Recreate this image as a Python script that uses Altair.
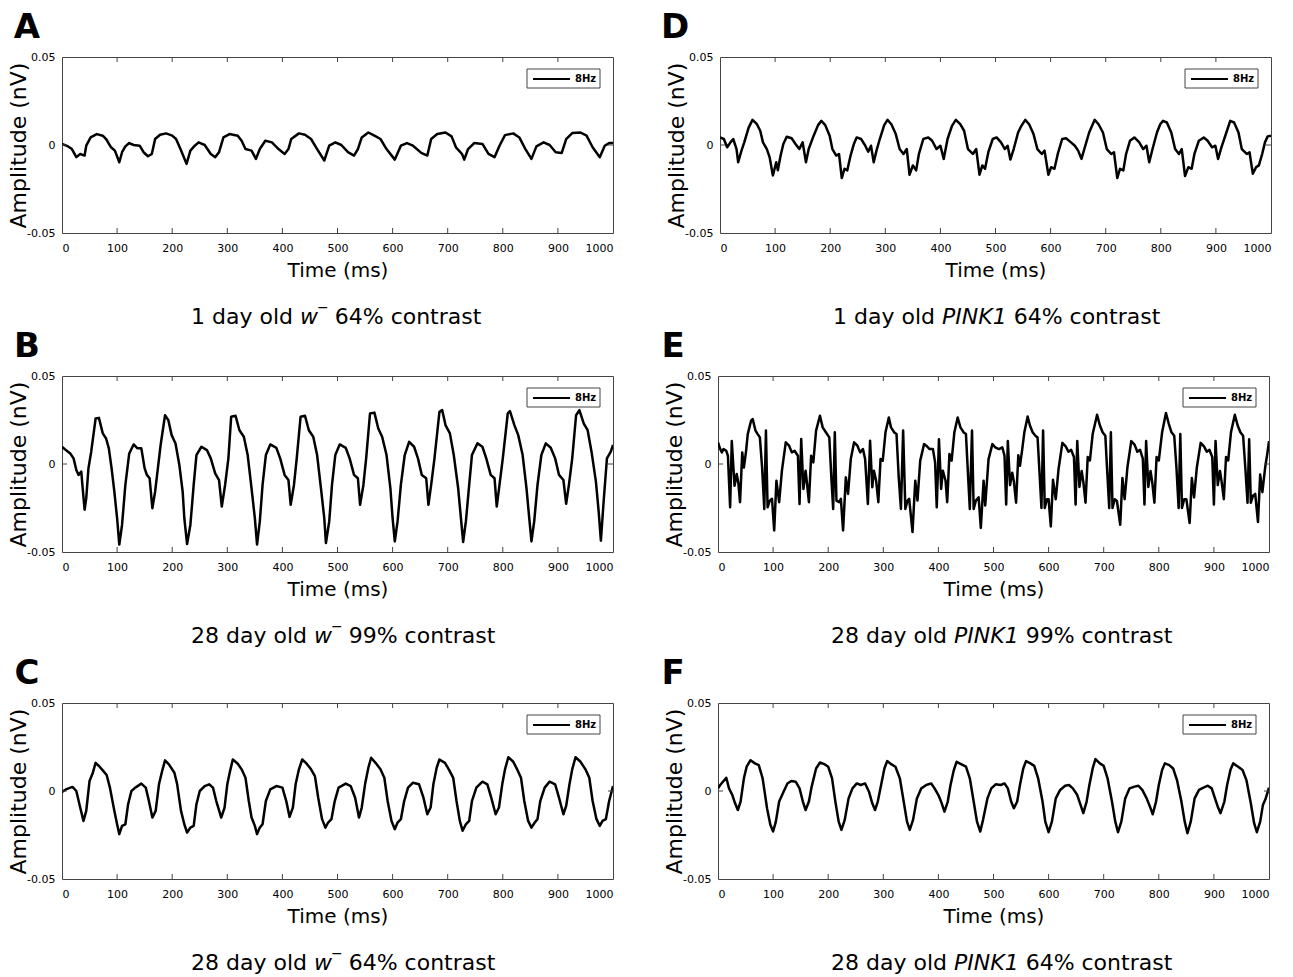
import altair as alt
import pandas as pd

W, H = 551, 176
FONT = "DejaVu Sans"

x_ticks = [0, 100, 200, 300, 400, 500, 600, 700, 800, 900, 1000]
inner_ticks = [100, 200, 300, 400, 500, 600, 700, 800, 900]
y_ticks = [-0.05, 0, 0.05]

# ---------------- Panel A : 1 day old w- 64% ----------------
time_a = [0, 11, 18, 26, 33, 41, 44, 52, 63, 74, 80, 89, 96, 104, 109, 115, 122, 130, 141, 148,
          156, 163, 169, 178, 189, 200, 207, 215, 226, 233, 241, 248, 259, 270, 278, 285, 293, 304,
          319, 326, 333, 344, 352, 359, 369, 381, 393, 404, 411, 416, 430, 441, 452, 463, 476, 485,
          496, 507, 519, 530, 537, 544, 556, 567, 578, 589, 604, 615, 626, 637, 652, 663, 670, 681,
          696, 707, 715, 726, 730, 737, 748, 763, 774, 785, 794, 804, 819, 830, 841, 852, 861, 874,
          885, 896, 907, 915, 926, 941, 952, 963, 976, 985, 993, 1000]
amp_a = [0.0006, -0.0008, -0.0023, -0.0069, -0.0051, -0.006, -0.0004, 0.0043, 0.0062, 0.0053,
         0.0034, -0.0013, -0.0032, -0.0098, -0.0041, -0.0008, 0.0011, 0.0, -0.0004, -0.0041,
         -0.0064, -0.0051, 0.0034, 0.0058, 0.0066, 0.0053, 0.0034, -0.0023, -0.0107, -0.0032,
         -0.0004, 0.0015, 0.0, -0.0051, -0.0069, -0.0041, 0.0043, 0.0062, 0.0053, 0.0024,
         -0.0023, -0.0032, -0.0079, -0.0023, 0.0024, 0.0015, -0.0023, -0.0051, -0.0023, 0.0034,
         0.0066, 0.0058, 0.0034, -0.0023, -0.0088, -0.0004, 0.0015, 0.0, -0.0041, -0.006,
         -0.0023, 0.0043, 0.0071, 0.0053, 0.0034, -0.0023, -0.0083, -0.0004, 0.0011, -0.0004,
         -0.0045, -0.006, 0.0034, 0.0062, 0.0071, 0.0049, -0.0013, -0.0051, -0.0083, -0.0023,
         0.0011, 0.0006, -0.0051, -0.0069, -0.0004, 0.0056, 0.0066, 0.0043, -0.0023, -0.0079,
         -0.0008, 0.0015, 0.0, -0.0041, -0.0045, 0.0034, 0.0068, 0.0071, 0.0053, -0.0013,
         -0.0069, -0.0004, 0.0011, 0.0011]

# ---------------- Panel B : 28 day old w- 99% ----------------
time_b = [0, 7, 15, 21, 26, 30, 35, 37, 41, 44, 48, 53, 61, 67, 74, 80, 85, 90, 95, 100, 104, 109,
          115, 122, 130, 137, 144, 150, 154, 159, 164, 169, 174, 179, 187, 193, 199, 206, 213, 219,
          222, 227, 233, 239, 244, 253, 263, 270, 278, 285, 290, 296, 302, 307, 315, 322, 330, 337,
          344, 350, 354, 359, 364, 370, 378, 389, 396, 404, 411, 415, 421, 426, 433, 441, 448, 456,
          463, 470, 476, 479, 485, 490, 496, 504, 515, 522, 530, 537, 541, 547, 552, 559, 567, 574,
          581, 589, 596, 600, 604, 609, 615, 622, 630, 639, 646, 653, 661, 665, 670, 676, 685, 690,
          696, 704, 711, 719, 724, 728, 733, 739, 744, 754, 763, 770, 778, 785, 789, 794, 800, 809,
          813, 821, 828, 836, 843, 848, 852, 857, 863, 870, 878, 887, 895, 902, 910, 915, 920, 926,
          933, 939, 947, 954, 961, 969, 974, 978, 983, 989, 996, 1000]
amp_b = [0.0098, 0.0079, 0.006, 0.0032, -0.0034, -0.0062, -0.0043, -0.0119, -0.026, -0.0194,
         -0.0025, 0.007, 0.0258, 0.0262, 0.0174, 0.0145, 0.0089, -0.0025, -0.0157, -0.0308,
         -0.0458, -0.0345, -0.0119, 0.006, 0.0111, 0.0089, 0.0089, -0.0025, -0.0062, -0.0081,
         -0.0251, -0.0157, -0.0025, 0.0108, 0.0277, 0.0249, 0.0164, 0.0117, -0.0006, -0.0157,
         -0.0308, -0.0455, -0.0345, -0.0119, 0.0051, 0.0098, 0.0079, 0.0032, -0.0053, -0.0091,
         -0.0242, -0.0119, 0.0032, 0.0268, 0.0274, 0.0192, 0.0155, 0.0051, -0.0138, -0.0308,
         -0.0458, -0.0326, -0.0119, 0.0051, 0.0111, 0.0092, 0.0032, -0.0062, -0.0091, -0.0232,
         -0.0119, 0.0032, 0.0268, 0.0274, 0.0192, 0.0155, 0.0051, -0.0138, -0.0308, -0.0449,
         -0.0326, -0.0119, 0.0051, 0.0111, 0.0092, 0.0032, -0.0062, -0.0081, -0.0232, -0.0119,
         0.0032, 0.0287, 0.0292, 0.0202, 0.0155, 0.0051, -0.0138, -0.0308, -0.044, -0.0326,
         -0.0119, 0.0051, 0.0126, 0.0098, 0.0032, -0.0062, -0.0081, -0.0232, -0.0119, 0.0032,
         0.0296, 0.0306, 0.0221, 0.0174, 0.0051, -0.0138, -0.0308, -0.0443, -0.0326, -0.0119,
         0.0051, 0.0117, 0.0098, 0.0032, -0.0062, -0.0081, -0.0242, -0.0119, 0.0032, 0.0287,
         0.03, 0.0221, 0.0164, 0.0051, -0.0138, -0.0308, -0.044, -0.0326, -0.0119, 0.0051,
         0.0117, 0.0092, 0.0032, -0.0062, -0.0091, -0.0226, -0.0119, 0.0032, 0.0277, 0.0306,
         0.023, 0.0192, 0.007, -0.01, -0.027, -0.0436, -0.0213, 0.0032, 0.007, 0.0108]

# ---------------- Panel C : 28 day old w- 64% ----------------
time_c = [0, 7, 19, 26, 33, 39, 44, 50, 56, 61, 67, 74, 81, 87, 95, 100, 104, 109, 115, 120, 126,
          133, 144, 152, 157, 164, 170, 176, 181, 187, 194, 204, 209, 216, 222, 227, 233, 239, 244,
          250, 259, 267, 274, 280, 289, 295, 300, 305, 310, 319, 326, 333, 339, 344, 350, 354, 359,
          364, 370, 378, 389, 400, 407, 413, 419, 424, 430, 436, 444, 452, 459, 465, 472, 478, 483,
          489, 495, 502, 515, 524, 532, 539, 544, 550, 556, 561, 569, 578, 585, 591, 598, 604, 609,
          615, 621, 628, 637, 648, 656, 663, 669, 674, 680, 685, 695, 702, 710, 716, 722, 727, 733,
          739, 744, 752, 763, 772, 779, 787, 793, 799, 804, 810, 819, 826, 833, 839, 846, 852, 858,
          863, 868, 876, 885, 895, 902, 910, 915, 921, 926, 932, 941, 950, 957, 963, 970, 976, 981,
          987, 993, 1000]
amp_c = [-0.0006, 0.0009, 0.0023, 0.0, -0.0094, -0.017, -0.0113, 0.0057, 0.0104, 0.016, 0.0142,
         0.0117, 0.0091, 0.0019, -0.0113, -0.0189, -0.0245, -0.0198, -0.0189, -0.0075, 0.0,
         0.0019, 0.0042, 0.0019, -0.0047, -0.0151, -0.0113, 0.0038, 0.0104, 0.0174, 0.0151,
         0.0104, 0.0038, -0.0113, -0.0189, -0.0236, -0.0208, -0.0198, -0.0075, 0.0, 0.0028,
         0.0038, 0.0019, -0.0057, -0.0151, -0.0094, 0.0038, 0.0113, 0.0179, 0.0155, 0.0123,
         0.0075, -0.0057, -0.0151, -0.0198, -0.0245, -0.0208, -0.0189, -0.0057, 0.0009, 0.0028,
         0.0019, -0.0057, -0.0147, -0.0094, 0.0038, 0.0123, 0.0179, 0.0155, 0.0123, 0.0085,
         -0.0038, -0.016, -0.0208, -0.0179, -0.016, -0.0057, 0.0019, 0.0042, 0.0028, -0.0038,
         -0.0151, -0.0094, 0.0038, 0.0132, 0.0189, 0.016, 0.0123, 0.0075, -0.0057, -0.017,
         -0.0217, -0.0179, -0.016, -0.0057, 0.0019, 0.0047, 0.0038, -0.0038, -0.0132, -0.0094,
         0.0038, 0.0132, 0.0179, 0.016, 0.0123, 0.0075, -0.0057, -0.017, -0.0226, -0.0189,
         -0.017, -0.0057, 0.0019, 0.0053, 0.0038, -0.0038, -0.0132, -0.0094, 0.0038, 0.0123,
         0.0192, 0.0166, 0.0123, 0.0075, -0.0057, -0.017, -0.0208, -0.0179, -0.016, -0.0057,
         0.0019, 0.0053, 0.0038, -0.0038, -0.0132, -0.0085, 0.0038, 0.0123, 0.0192, 0.0166,
         0.0123, 0.0075, -0.0057, -0.016, -0.0198, -0.017, -0.016, -0.0057, 0.0028]

# ---------------- Panel D : 1 day old PINK1 64% ----------------
time_d = [0, 7, 13, 19, 24, 30, 33, 39, 44, 52, 59, 67, 73, 78, 85, 90, 96, 102, 105, 110, 115,
          121, 130, 137, 144, 150, 156, 161, 170, 178, 184, 191, 199, 204, 211, 216, 221, 226, 231,
          237, 243, 248, 256, 263, 269, 274, 279, 284, 290, 298, 304, 311, 319, 326, 333, 339, 344,
          350, 356, 361, 369, 378, 385, 393, 400, 406, 413, 421, 428, 436, 443, 450, 459, 465, 471,
          476, 481, 487, 495, 502, 510, 517, 522, 527, 533, 541, 547, 554, 561, 569, 576, 584, 589,
          596, 601, 607, 613, 621, 628, 637, 644, 650, 656, 663, 670, 680, 687, 695, 702, 710, 715,
          721, 726, 732, 737, 744, 752, 761, 768, 774, 779, 785, 793, 799, 804, 811, 819, 826, 833,
          838, 844, 850, 856, 861, 869, 878, 885, 893, 899, 904, 910, 919, 926, 933, 941, 947, 956,
          961, 967, 973, 978, 984, 989, 994, 1000]
amp_d = [0.0043, 0.0034, -0.0013, 0.0015, 0.0034, -0.0023, -0.0098, -0.0032, 0.0015, 0.0099,
         0.0143, 0.0118, 0.0081, 0.0015, -0.0023, -0.0069, -0.0173, -0.0098, -0.0144, -0.006,
         0.0006, 0.0047, 0.0038, 0.0006, -0.0023, 0.0015, -0.0098, -0.0023, 0.0053, 0.0113,
         0.0137, 0.0113, 0.0053, -0.0023, -0.006, -0.0051, -0.0188, -0.0135, -0.0144, -0.006,
         0.0006, 0.0043, 0.0034, 0.0, -0.0038, -0.0004, -0.0098, -0.0032, 0.0034, 0.0113,
         0.0143, 0.0118, 0.0062, -0.0023, -0.0051, -0.0023, -0.0169, -0.0116, -0.0144, -0.0051,
         0.0034, 0.0043, 0.0024, -0.0023, -0.0004, -0.0079, 0.0034, 0.0109, 0.0143, 0.0118,
         0.0081, -0.0023, -0.0051, -0.0023, -0.0169, -0.0116, -0.0135, -0.0041, 0.0034, 0.0043,
         0.0015, -0.0023, -0.0004, -0.0083, -0.0023, 0.0071, 0.0109, 0.0143, 0.0118, 0.0062,
         -0.0023, -0.0051, -0.0032, -0.0169, -0.0126, -0.0135, -0.0051, 0.0034, 0.0038, 0.0015,
         -0.0004, -0.0032, -0.0079, -0.0004, 0.0071, 0.0143, 0.0118, 0.0071, -0.0023, -0.0051,
         -0.0041, -0.0188, -0.0135, -0.0144, -0.0051, 0.0024, 0.0043, 0.0015, -0.0023, -0.0004,
         -0.0098, -0.0023, 0.0071, 0.0118, 0.0137, 0.0128, 0.0071, -0.0023, -0.0051, -0.0023,
         -0.0176, -0.0126, -0.0135, -0.0051, 0.0024, 0.0043, 0.0024, -0.0013, -0.0004, -0.0079,
         -0.0013, 0.0071, 0.0137, 0.0128, 0.0071, -0.0023, -0.0051, -0.0041, -0.0163, -0.0126,
         -0.0116, -0.0051, 0.0015, 0.0049, 0.0053]

# ---------------- Panel E : 28 day old PINK1 99% ----------------
time_e = [0, 4, 7, 10, 15, 18, 22, 25, 30, 34, 37, 40, 44, 47, 51, 54, 60, 63, 68, 72, 76, 80, 84,
          87, 90, 94, 98, 102, 106, 111, 116, 123, 129, 134, 139, 145, 148, 151, 155, 159, 161, 165,
          169, 173, 178, 185, 190, 196, 202, 206, 209, 212, 215, 220, 223, 227, 232, 236, 241, 247,
          253, 258, 263, 267, 272, 276, 280, 283, 287, 291, 295, 299, 304, 310, 314, 320, 324, 328,
          332, 336, 340, 344, 347, 353, 358, 362, 367, 374, 378, 384, 390, 394, 397, 401, 405, 408,
          413, 416, 420, 424, 429, 435, 440, 446, 450, 454, 457, 461, 464, 468, 473, 477, 482, 485,
          491, 498, 503, 510, 516, 520, 523, 526, 530, 534, 537, 541, 545, 548, 552, 556, 562, 566,
          571, 576, 580, 583, 587, 590, 593, 597, 600, 604, 608, 613, 618, 625, 631, 636, 641, 646,
          649, 652, 656, 660, 663, 667, 671, 675, 680, 688, 693, 698, 703, 706, 710, 713, 716, 720,
          724, 730, 734, 738, 743, 750, 756, 761, 766, 771, 774, 777, 781, 785, 788, 792, 796, 800,
          806, 813, 818, 823, 828, 832, 836, 839, 842, 846, 850, 856, 860, 864, 869, 876, 882, 887,
          892, 897, 900, 903, 907, 911, 914, 918, 922, 926, 931, 938, 943, 948, 953, 957, 961, 964,
          967, 971, 975, 980, 984, 988, 993, 997, 1000]
amp_e = [0.0123, 0.0085, 0.0066, 0.0085, 0.0075, 0.0047, -0.0246, 0.013, -0.0123, -0.0057,
         -0.011, -0.0217, 0.0066, -0.002, 0.0075, 0.017, 0.0246, 0.0255, 0.019, 0.017, 0.0151,
         -0.0019, -0.0255, 0.019, -0.0246, -0.0208, -0.0198, -0.0378, -0.0095, -0.0217, -0.0038,
         0.0123, 0.0104, 0.0066, 0.0075, 0.0047, -0.0227, 0.0142, -0.0142, -0.0038, -0.0095,
         -0.0217, 0.0047, 0.0009, 0.019, 0.0274, 0.0208, 0.0179, 0.0151, -0.0095, -0.0255, 0.018,
         -0.0208, -0.0217, -0.0198, -0.0378, -0.0076, -0.017, 0.0028, 0.0123, 0.0104, 0.0066,
         0.0085, 0.0028, -0.0227, 0.0132, -0.0132, -0.0038, -0.0095, -0.0217, 0.0028, 0.0019,
         0.018, 0.0264, 0.0208, 0.0179, 0.017, -0.0076, -0.0255, 0.019, -0.0255, -0.0208,
         -0.0198, -0.0387, -0.0095, -0.0208, 0.0019, 0.0113, 0.0104, 0.0085, 0.0085, 0.0009,
         -0.0246, 0.014, -0.0142, -0.0038, -0.0095, -0.0217, 0.0057, 0.0019, 0.018, 0.0264,
         0.0208, 0.0179, 0.017, -0.0076, -0.0255, 0.019, -0.0255, -0.0208, -0.0189, -0.0363,
         -0.0095, -0.0236, 0.0028, 0.0113, 0.0095, 0.0085, 0.0095, 0.0047, -0.023, 0.013,
         -0.012, -0.005, -0.01, -0.022, 0.005, -0.001, 0.008, 0.018, 0.027, 0.022, 0.018, 0.016,
         0.015, -0.002, -0.025, 0.019, -0.025, -0.02, -0.02, -0.0355, -0.009, -0.02, -0.003,
         0.012, 0.01, 0.007, 0.008, 0.004, -0.023, 0.013, -0.013, -0.004, -0.01, -0.022, 0.004,
         0.002, 0.017, 0.028, 0.022, 0.018, 0.016, -0.002, -0.025, 0.018, -0.025, -0.02, -0.021,
         -0.0345, -0.008, -0.02, -0.002, 0.013, 0.011, 0.007, 0.008, 0.003, -0.023, 0.013,
         -0.013, -0.004, -0.01, -0.022, 0.004, 0.002, 0.018, 0.029, 0.023, 0.018, 0.016, -0.002,
         -0.025, 0.017, -0.025, -0.02, -0.02, -0.0335, -0.008, -0.019, -0.002, 0.012, 0.01,
         0.007, 0.008, 0.004, -0.023, 0.013, -0.012, -0.004, -0.01, -0.02, 0.004, 0.002, 0.018,
         0.028, 0.022, 0.018, 0.016, -0.002, -0.022, 0.014, -0.022, -0.018, -0.017, -0.033,
         -0.006, -0.016, -0.002, 0.006, 0.013]

# ---------------- Panel F : 28 day old PINK1 64% ----------------
time_f = [0, 4, 9, 15, 20, 26, 31, 36, 41, 47, 52, 59, 67, 74, 81, 89, 95, 100, 105, 111, 119,
          126, 133, 141, 148, 154, 159, 165, 170, 178, 185, 194, 200, 207, 213, 219, 224, 230, 237,
          244, 252, 259, 267, 274, 280, 285, 290, 296, 302, 307, 315, 322, 330, 337, 343, 348, 354,
          361, 369, 378, 387, 393, 400, 406, 411, 417, 422, 428, 433, 442, 450, 457, 464, 470, 476,
          481, 489, 496, 504, 513, 520, 526, 532, 537, 543, 548, 554, 559, 567, 574, 581, 589, 594,
          600, 606, 613, 621, 630, 637, 644, 652, 658, 663, 669, 674, 680, 685, 693, 700, 707, 715,
          721, 726, 732, 739, 747, 756, 763, 770, 778, 784, 789, 795, 800, 806, 811, 819, 826, 833,
          841, 847, 852, 858, 865, 873, 881, 889, 896, 902, 907, 912, 919, 924, 930, 935, 944, 952,
          959, 967, 973, 978, 984, 989, 994, 1000]
amp_f = [0.0015, 0.0034, 0.0053, 0.0075, 0.0015, -0.0023, -0.007, -0.0108, -0.006, 0.0072,
         0.0138, 0.0175, 0.0157, 0.0147, 0.0072, -0.0098, -0.0192, -0.023, -0.0174, -0.006,
         -0.0004, 0.0043, 0.0057, 0.0053, 0.0015, -0.006, -0.0108, -0.006, 0.0025, 0.0128,
         0.0162, 0.0151, 0.0138, 0.0072, -0.006, -0.0174, -0.0221, -0.0164, -0.0042, 0.0015,
         0.0043, 0.0034, 0.0043, -0.0004, -0.007, -0.0108, -0.006, 0.0034, 0.0128, 0.017,
         0.0151, 0.0138, 0.0072, -0.006, -0.0174, -0.0221, -0.0164, -0.0042, 0.0015, 0.0034,
         0.0043, 0.0015, -0.0023, -0.007, -0.0117, -0.006, 0.0034, 0.0119, 0.0166, 0.0151,
         0.0138, 0.0072, -0.006, -0.0174, -0.023, -0.0164, -0.0042, 0.0015, 0.0038, 0.0034,
         0.0043, 0.0015, -0.006, -0.0098, -0.006, 0.0034, 0.0128, 0.017, 0.0157, 0.0143, 0.0072,
         -0.006, -0.0174, -0.0234, -0.0174, -0.0042, 0.0006, 0.003, 0.0034, 0.0015, -0.0023,
         -0.0079, -0.0126, -0.006, 0.0034, 0.0128, 0.0181, 0.0157, 0.0143, 0.0072, -0.006,
         -0.0174, -0.0234, -0.0174, -0.0042, 0.0015, 0.0025, 0.003, 0.0006, -0.0042, -0.0089,
         -0.0132, -0.006, 0.0034, 0.0119, 0.0157, 0.0147, 0.0128, 0.0062, -0.006, -0.0174,
         -0.024, -0.0174, -0.0042, 0.0006, 0.0019, 0.003, 0.0015, -0.0042, -0.0089, -0.0126,
         -0.006, 0.0034, 0.0119, 0.0157, 0.0138, 0.0119, 0.0062, -0.007, -0.0183, -0.0234,
         -0.0174, -0.0079, -0.0042, 0.0019]

letters = ["A", "B", "C", "D", "E", "F"]
captions = [
    [("1 day old ", "n"), ("w", "i"), ("\u2212", "sup"), (" 64% contrast", "n")],
    [("28 day old ", "n"), ("w", "i"), ("\u2212", "sup"), (" 99% contrast", "n")],
    [("28 day old ", "n"), ("w", "i"), ("\u2212", "sup"), (" 64% contrast", "n")],
    [("1 day old ", "n"), ("PINK1", "i"), (" 64% contrast", "n")],
    [("28 day old ", "n"), ("PINK1", "i"), (" 99% contrast", "n")],
    [("28 day old ", "n"), ("PINK1", "i"), (" 64% contrast", "n")],
]
legend_label = "8Hz"

# DejaVu Sans advance widths (per 1000 em), used to place the caption pieces
DV = {" ": 318, "a": 613, "c": 550, "d": 635, "l": 278, "n": 634, "o": 612, "r": 411,
      "s": 521, "t": 392, "y": 592, "%": 950, "w": 818, "P": 603, "I": 295, "N": 748,
      "K": 656, "\u2212": 838}
for ch in "0123456789":
    DV[ch] = 636

CAP_SIZE = 22
SUP_SIZE = 14
CAP_BASE = 267


def text_width(s, size):
    return sum(DV.get(ch, 600) for ch in s) * size / 1000.0


one = pd.DataFrame({"k": [0]})


def panel(times, amps, letter, cap, col, extra_bottom=0):
    df = pd.DataFrame({"t": times, "v": amps})
    x_enc = alt.X("t:Q", scale=alt.Scale(domain=[0, 1000], nice=False, zero=False),
                  axis=alt.Axis(values=x_ticks, title="Time (ms)", format="d"))
    y_enc = alt.Y("v:Q", scale=alt.Scale(domain=[-0.05, 0.05], nice=False, zero=False),
                  axis=alt.Axis(values=y_ticks, title="Amplitude (nV)",
                                labelExpr="datum.value == 0 ? '0' : (datum.value > 0 ? '0.05' : '-0.05')"))
    layers = []
    layers.append(alt.Chart(df).mark_line(color="black", strokeWidth=2.5, clip=True,
                                          strokeJoin="round").encode(x=x_enc, y=y_enc))
    tick_df = pd.DataFrame({"t": inner_ticks})
    layers.append(alt.Chart(tick_df).mark_rule(color="#444", strokeWidth=1).encode(
        x=x_enc, y=alt.value(0), y2=alt.value(5)))
    layers.append(alt.Chart(tick_df).mark_rule(color="#444", strokeWidth=1).encode(
        x=x_enc, y=alt.value(H - 5), y2=alt.value(H)))
    ytick_df = pd.DataFrame({"v": [0.0]})
    layers.append(alt.Chart(ytick_df).mark_rule(color="#444", strokeWidth=1).encode(
        y=y_enc, x=alt.value(0), x2=alt.value(5)))
    layers.append(alt.Chart(ytick_df).mark_rule(color="#444", strokeWidth=1).encode(
        y=y_enc, x=alt.value(W - 5), x2=alt.value(W)))
    # legend box
    layers.append(alt.Chart(one).mark_rect(fill="white", stroke="#444", strokeWidth=1).encode(
        x=alt.value(W - 86), x2=alt.value(W - 13), y=alt.value(12), y2=alt.value(31)))
    layers.append(alt.Chart(one).mark_rule(color="black", strokeWidth=2).encode(
        x=alt.value(W - 80), x2=alt.value(W - 43), y=alt.value(22)))
    layers.append(alt.Chart(one).mark_text(font=FONT, fontSize=10, fontWeight="bold",
                                           align="left", baseline="middle", color="black").encode(
        x=alt.value(W - 38), y=alt.value(22), text=alt.value(legend_label)))
    # panel letter
    lx = -35 if col == 0 else -45
    layers.append(alt.Chart(one).mark_text(font=FONT, fontSize=34, fontWeight="bold",
                                           align="center", baseline="middle", color="black").encode(
        x=alt.value(lx), y=alt.value(-29.5), text=alt.value(letter)))
    # caption pieces (spaces are turned into offsets because SVG collapses them)
    xpos = 129 if col == 0 else 113
    for txt, style in cap:
        size = SUP_SIZE if style == "sup" else CAP_SIZE
        lead = len(txt) - len(txt.lstrip(" "))
        trail = len(txt) - len(txt.rstrip(" "))
        core = txt.strip(" ")
        xpos += text_width(" " * lead, CAP_SIZE)
        mk = dict(font=FONT, fontSize=size, align="left", baseline="alphabetic", color="black")
        if style == "i":
            mk["fontStyle"] = "italic"
        if style == "sup":
            layers.append(alt.Chart(one).mark_text(**mk).encode(
                x=alt.value(xpos - 1), y=alt.value(CAP_BASE - 12), text=alt.value(core)))
            xpos += text_width(core, size) - 2
        else:
            layers.append(alt.Chart(one).mark_text(**mk).encode(
                x=alt.value(xpos), y=alt.value(CAP_BASE), text=alt.value(core)))
            xpos += text_width(core, size)
        xpos += text_width(" " * trail, CAP_SIZE)
    if extra_bottom:
        layers.append(alt.Chart(one).mark_rule(strokeOpacity=0).encode(
            x=alt.value(10), x2=alt.value(20), y=alt.value(CAP_BASE + extra_bottom)))
    return alt.layer(*layers).properties(width=W, height=H)


data = [(time_a, amp_a), (time_b, amp_b), (time_c, amp_c),
        (time_d, amp_d), (time_e, amp_e), (time_f, amp_f)]

rows = []
for r in range(3):
    left = panel(*data[r], letters[r], captions[r], 0, extra_bottom=12 if r == 1 else 0)
    right = panel(*data[r + 3], letters[r + 3], captions[r + 3], 1,
                  extra_bottom=12 if r == 1 else 0)
    rows.append(alt.hconcat(left, right, spacing=46))

chart = alt.vconcat(*rows, spacing=0).properties(
    padding={"left": 7, "top": 10, "right": 5, "bottom": 5}, background="white"
).configure_view(
    stroke="#444", strokeWidth=1
).configure_axis(
    grid=False, ticks=False, domain=False,
    labelFont=FONT, labelFontSize=11, labelColor="black",
    titleFont=FONT, titleColor="black", titleFontWeight="normal"
).configure_axisX(
    titleFontSize=20, titlePadding=7, labelPadding=9
).configure_axisY(
    titleFontSize=22, titlePadding=-4, labelPadding=7
).configure_concat(spacing=0)

chart.save("out.html", embed_options={"renderer": "svg", "actions": False})
